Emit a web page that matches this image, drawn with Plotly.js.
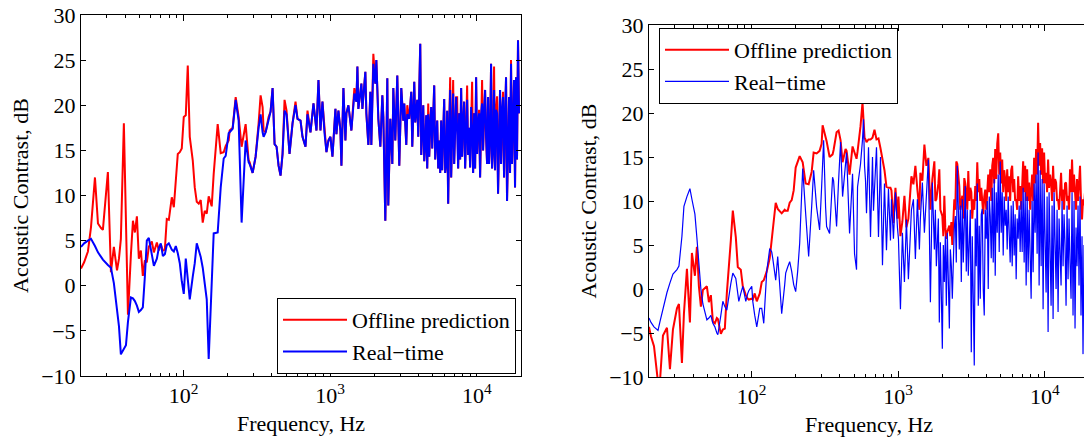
<!DOCTYPE html>
<html>
<head>
<meta charset="utf-8">
<script src="https://cdn.plot.ly/plotly-3.0.1.min.js"></script>
<style>
html,body{margin:0;padding:0;background:#fff;overflow:hidden;}
#chart{width:1090px;height:437px;}
</style>
</head>
<body>
<div id="chart"></div>
<script>
// ---------- Left panel: frequency (Hz) ----------
const freqLeft = [
20.0,21.0,22.3,23.4,24.9,26.1,27.4,28.2,30.5,32.0,
33.5,35.2,36.3,37.4,39.2,40.5,41.8,43.8,45.2,46.6,
48.1,49.6,51.2,52.8,54.5,56.2,58.0,60.8,62.8,65.8,
67.9,70.0,72.3,74.6,76.9,79.4,83.2,85.9,88.6,91.4,
94.3,97.3,100.4,103.6,106.9,110.3,115.6,119.3,123.1,127.0,
131.0,135.2,139.5,144.0,148.5,155.7,160.6,171.0,179.3,187.9,
193.9,203.2,206.4,216.3,226.8,237.6,249.0,265.2,277.9,282.3,
295.9,310.2,325.1,335.4,346.1,351.6,362.8,380.2,392.3,404.8,
417.7,431.0,444.7,458.8,473.4,488.5,504.0,528.3,553.7,580.3,
598.8,627.6,647.6,678.7,700.3,734.0,769.3,806.3,832.0,858.5,
885.8,914.0,943.1,973.1,1004,1036,1086,1103,1138,1174,
1193,1231,1270,1290,1331,1395,1462,1509,1533,1557,
1632,1658,1737,1765,1821,1879,1908,1969,2032,2064,
2130,2198,2268,2304,2376,2452,2490,2570,2652,2694,
2779,2868,2913,2959,3053,3151,3200,3302,3354,3461,
3571,3628,3743,3802,3923,3985,4112,4177,4243,4310,
4378,4447,4517,4588,4661,4734,4809,4885,4962,5040,
5120,5201,5283,5366,5451,5537,5624,5713,5803,5895,
5988,6082,6178,6276,6375,6476,6578,6682,6787,6894,
7003,7114,7226,7340,7456,7574,7693,7815,7938,8063,
8191,8320,8451,8585,8720,8858,8998,9140,9284,9431,
9580,9731,9884,10040,10199,10360,10523,10689,10858,11030,
11204,11381,11560,11743,11928,12117,12308,12502,12700,12900,
13104,13311,13521,13735,13951,14172,14395,14623,14853,15088,
15326,15568,15814,16064,16317,16575,16836,17102,17372,17646,
17925,18208,18495,18787,19084,19385];
const offlineLeft = [
1.9,2.6,3.8,6.5,12.0,6.9,6.4,6.2,12.6,1.5,
4.3,1.7,3.0,5.2,18.0,8.0,-3.2,3.5,7.2,5.9,
7.7,3.0,3.9,1.1,2.8,2.6,4.3,4.9,3.7,4.8,
3.9,4.6,3.9,4.0,7.4,7.3,9.8,8.7,11.7,14.6,
14.8,15.2,18.7,18.9,24.4,16.5,13.9,10.9,9.3,9.1,
9.5,7.0,8.3,8.0,9.9,8.8,12.4,17.9,14.7,14.8,
15.5,16.1,17.2,17.5,20.9,18.7,15.4,17.9,13.9,13.7,
12.5,14.3,18.0,21.1,19.8,17.2,17.0,18.7,19.3,21.9,
15.7,15.4,13.3,12.2,14.6,20.6,19.4,14.6,18.0,20.4,
18.5,18.3,16.5,15.4,19.4,17.0,20.2,17.2,22.8,17.2,
20.4,17.0,14.8,16.1,16.5,14.3,19.6,16.8,19.4,17.2,
13.3,21.9,16.1,19.1,20.0,17.2,21.9,20.4,24.3,19.6,
22.4,19.6,23.7,19.1,15.6,21.5,15.6,25.7,22.4,25.0,
18.5,15.4,21.1,18.7,7.2,23.0,8.9,18.5,13.5,21.9,
16.1,23.3,19.1,13.3,21.9,18.3,20.2,15.6,20.0,18.5,
21.5,15.4,22.6,18.1,20.6,16.5,26.8,14.5,17.2,20.0,
13.8,15.6,18.9,13.0,20.2,14.3,18.0,19.8,15.2,18.5,
22.2,14.0,16.8,18.3,13.0,16.1,12.5,18.3,12.8,17.5,
20.7,12.5,13.5,19.4,9.1,17.5,23.1,12.0,16.1,22.8,
13.5,19.0,20.9,20.9,13.0,19.1,14.0,21.9,14.3,18.0,
20.4,13.0,18.0,22.2,14.5,17.5,13.1,19.8,22.6,12.5,
19.1,13.0,23.1,14.6,18.0,19.5,12.0,19.0,22.8,15.0,
19.5,21.7,16.5,13.5,20.9,13.5,16.1,24.6,13.0,15.0,
24.3,12.8,19.5,21.0,10.2,19.0,21.7,13.5,19.5,21.5,
12.0,19.0,23.1,9.4,18.0,20.9,12.5,25.0,13.5,20.0,
22.8,10.9,23.1,14.0,27.2,19.1];
const realtimeLeft = [
4.3,4.7,5.0,5.2,4.4,3.7,3.2,2.9,2.3,2.0,
0.3,-2.5,-4.5,-7.6,-7.0,-6.6,-4.0,-1.3,-1.4,-1.7,
-2.2,-2.9,-2.7,-2.4,1.0,5.0,5.3,3.5,2.2,3.0,
4.2,4.7,3.3,3.5,4.5,4.7,4.0,3.8,4.4,3.6,
2.5,0.5,-0.9,3.0,1.0,-1.5,1.0,2.5,4.7,4.0,
3.2,2.0,0.4,-1.5,-8.1,1.0,5.8,5.9,10.9,14.1,
14.4,16.9,17.0,17.4,20.6,18.3,7.0,16.1,13.7,13.5,
12.5,14.3,17.5,19.0,17.0,16.5,17.0,18.5,19.3,21.9,
15.7,15.4,13.3,12.2,14.6,19.4,19.0,14.6,18.0,20.0,
18.5,18.3,16.5,15.4,19.0,17.0,20.2,17.2,22.8,17.2,
20.4,17.0,14.8,16.1,16.5,14.3,19.6,16.8,19.4,17.2,
13.3,21.9,16.1,19.1,20.0,17.2,21.3,20.4,24.3,19.6,
22.4,19.6,23.7,19.1,15.6,21.5,15.6,24.6,22.4,25.0,
18.5,15.4,21.1,18.7,7.2,23.0,8.9,18.5,13.5,21.9,
16.1,23.3,19.1,13.3,21.9,18.3,20.2,15.6,19.0,18.5,
21.5,15.4,22.6,18.1,20.6,16.5,26.8,14.5,17.2,20.0,
13.8,15.6,18.9,13.0,19.0,14.3,18.0,19.8,15.2,18.5,
22.2,14.0,16.8,18.3,13.0,16.1,12.5,18.3,12.8,17.5,
20.7,12.5,13.5,19.4,9.1,17.5,21.7,12.0,16.1,21.3,
13.5,19.0,20.9,17.2,13.0,19.1,14.0,21.9,14.3,18.0,
20.4,13.0,18.0,20.6,14.5,17.5,13.1,19.8,17.2,12.5,
19.1,13.0,23.1,14.6,18.0,19.1,12.0,19.0,20.2,15.0,
19.5,21.7,16.5,13.5,20.9,13.5,16.1,24.6,13.0,15.0,
21.7,12.8,19.5,19.1,10.2,19.0,21.7,13.5,19.5,20.9,
12.0,19.0,23.1,9.4,18.0,20.9,12.5,24.6,13.5,20.0,
22.8,10.9,23.1,14.0,27.2,19.1];

// ---------- Right panel: frequency (Hz) ----------
const freqRight = [
20.0,20.64,21.63,22.68,23.04,23.76,24.90,26.52,27.79,29.13,
31.02,32.00,33.54,34.61,36.28,38.02,39.23,41.12,42.43,43.78,
45.17,46.61,49.62,51.20,52.83,54.51,56.24,58.03,58.95,61.78,
63.75,65.78,67.87,72.26,74.56,78.15,80.63,81.91,84.51,87.20,
89.98,91.40,94.31,95.80,100.4,102.0,105.2,108.6,113.8,117.4,
121.2,127.0,133.1,137.4,139.5,146.2,150.9,155.7,160.6,168.4,
171.0,176.5,182.1,187.9,193.9,200.0,206.4,213.0,223.3,233.9,
245.2,257.0,265.2,277.9,291.3,300.6,305.3,310.2,320.0,325.1,
340.7,357.1,362.8,380.2,392.3,404.8,417.7,437.8,444.7,466.1,
488.5,504.0,520.1,528.3,553.7,571.3,580.3,589.5,598.8,608.2,
627.6,647.6,668.2,678.7,689.4,711.4,734.0,757.4,781.5,806.3,
832.0,858.5,885.8,899.8,928.4,958.0,988.4,1004,1036,1069,
1103,1138,1174,1212,1231,1270,1310,1352,1395,1417,
1462,1509,1557,1606,1658,1710,1765,1793,1821,1879,
1908,1939,2000,2032,2064,2096,2130,2163,2233,2268,
2304,2339,2414,2452,2490,2530,2610,2652,2694,2736,
2779,2823,2868,2913,2959,3006,3053,3102,3151,3200,
3251,3302,3354,3407,3461,3516,3571,3628,3685,3743,
3802,3862,3923,3985,4048,4112,4177,4243,4310,4378,
4447,4517,4588,4661,4734,4809,4885,4962,5040,5120,
5201,5283,5366,5451,5537,5624,5713,5803,5895,5988,
6082,6178,6276,6375,6476,6578,6682,6787,6894,7003,
7114,7226,7340,7456,7574,7693,7815,7938,8063,8191,
8320,8451,8585,8720,8858,8998,9140,9284,9431,9580,
9731,9884,10040,10199,10360,10523,10689,10858,11030,11204,
11381,11560,11743,11928,12117,12308,12502,12700,12900,13104,
13311,13521,13735,13951,14172,14395,14623,14853,15088,15326,
15568,15814,16064,16317,16575,16836,17102,17372,17646,17925,
18208,18495,18787];
const offlineRight = [
-4.3,-5.4,-6.5,-10.3,-10.6,-10.5,-5.3,-4.4,-9.1,-4.6,
-2.2,-1.7,-8.4,-2.8,2.3,-3.8,4.1,1.5,4.8,0.3,
-2.0,-0.1,0.3,-1.5,-0.7,-3.7,-3.9,-3.3,-3.4,-5.1,
-4.6,-4.5,-0.5,5.5,8.9,5.9,2.5,2.4,2.2,0.3,
-0.5,-0.7,-1.1,-1.2,-1.1,-1.2,-0.5,-1.4,-0.5,0.8,
1.0,2.0,3.5,5.5,6.3,9.8,9.1,8.8,8.6,9.0,
8.9,8.9,9.8,10.1,11.2,13.8,14.5,15.1,14.4,12.0,
11.9,13.3,15.5,15.4,15.7,16.5,18.6,18.2,17.2,16.8,
15.0,15.3,15.8,17.8,18.0,16.9,14.4,15.9,15.7,13.0,
16.2,15.5,14.8,15.6,18.5,21.2,19.5,17.2,17.0,16.7,
17.0,17.0,17.2,17.8,18.1,17.0,17.1,16.0,14.7,13.5,
11.6,11.5,11.5,11.2,7.5,11.5,8.0,10.5,6.0,7.7,
10.6,7.0,8.0,12.0,12.8,11.9,14.0,11.3,9.0,13.2,
12.3,16.4,14.0,14.9,9.0,12.5,14.5,10.0,10.2,12.0,
13.6,9.0,8.3,6.0,10.6,7.0,5.7,6.5,7.2,6.0,
7.6,5.0,10.2,9.0,14.5,14.2,11.7,9.0,10.0,10.6,
8.0,12.6,12.0,11.0,9.0,13.4,10.0,11.5,11.0,8.0,
10.2,9.0,11.7,10.0,14.4,11.0,12.5,10.0,11.5,10.2,
8.5,10.5,11.3,9.0,12.0,13.0,11.0,13.6,10.0,14.0,
14.9,12.0,15.9,12.5,16.5,17.7,13.0,15.5,12.0,14.7,
11.0,13.5,12.5,10.0,13.6,11.0,12.8,10.0,13.5,14.0,
11.0,12.5,10.0,10.2,9.0,12.8,10.0,11.7,9.0,12.0,
14.5,11.0,14.0,10.0,13.6,10.0,12.1,9.0,11.0,13.0,
10.0,14.9,12.0,15.9,13.0,18.9,14.0,16.6,13.0,16.0,
12.0,15.5,12.0,13.2,11.0,14.7,11.5,13.0,12.1,10.0,
14.0,11.0,12.5,12.1,10.0,10.2,9.0,12.0,13.2,10.0,
11.3,9.0,12.0,12.1,10.0,10.6,9.0,13.6,11.0,14.7,
11.0,13.0,10.2,9.0,12.5,10.0,12.0,14.0,10.0,7.9,
10.2,9.5,11.0];
const realtimeRight = [
-3.3,-3.8,-4.3,-4.6,-4.7,-3.7,-2.2,-0.4,0.7,1.7,
2.2,2.6,6.0,9.4,10.5,11.4,10.2,8.5,5.8,3.0,
0.0,-1.7,-3.5,-3.3,-3.0,-3.9,-4.3,-5.0,-5.2,-3.0,
-1.4,-2.0,-2.4,0.6,1.8,1.2,-0.6,-1.4,-0.5,0.3,
-0.8,-1.4,-0.5,-0.2,0.3,-1.4,-3.0,-4.3,-2.2,-2.2,
-3.9,2.0,4.6,4.2,3.5,1.0,3.7,0.5,-2.8,0.5,
1.8,2.5,3.1,2.0,0.5,-0.3,2.0,5.2,13.7,8.6,
3.7,9.3,13.5,9.3,6.7,11.6,14.5,16.9,9.3,7.1,
6.3,12.7,12.3,7.1,12.3,16.7,10.5,13.8,15.5,6.3,
13.1,4.0,2.2,11.6,14.2,17.0,19.3,14.0,12.3,8.6,
16.1,5.9,15.0,8.9,12.0,16.1,5.9,15.0,2.7,12.0,
4.4,11.4,5.5,10.2,5.7,11.0,7.0,5.7,-2.3,6.4,
0.8,7.9,1.1,6.4,9.0,10.2,3.4,10.2,4.5,8.0,
12.1,6.4,10.2,14.7,-1.5,12.1,4.5,9.0,2.6,8.0,
-3.8,5.3,-6.8,5.0,0.8,6.0,-1.9,6.4,-4.5,4.5,
2.6,-1.1,7.0,8.3,3.0,14.0,4.5,9.5,0.8,10.2,
3.0,6.4,11.7,2.0,9.0,1.5,5.3,9.0,-7.2,6.0,
-1.1,-8.7,8.0,2.6,12.0,-1.9,7.2,-1.1,8.5,9.1,
0.0,-3.0,9.0,5.7,10.0,0.0,10.5,8.3,3.5,11.5,
3.0,12.5,1.5,11.0,6.4,13.0,4.2,14.5,6.4,11.0,
3.8,10.5,7.2,9.0,4.5,10.5,6.4,3.0,9.5,2.6,
10.0,3.8,8.5,1.1,8.0,5.7,9.5,4.2,10.0,4.2,
11.5,3.0,11.0,0.4,10.5,1.9,9.0,4.0,-1.1,10.0,
1.9,12.0,6.4,13.0,4.0,15.5,0.4,13.5,2.6,12.5,
-2.3,12.0,3.0,-0.4,10.5,-4.9,11.0,2.0,-1.9,9.5,
-3.4,11.0,3.0,0.0,9.0,-2.6,8.0,3.0,0.4,10.0,
2.6,8.5,5.0,-1.9,9.5,1.1,8.0,3.0,-1.1,11.0,
-3.0,10.0,-4.5,7.0,2.6,9.5,0.4,10.5,-3.0,6.0,
-7.4,5.0,3.0];

// ---------- Axis ticks ----------
const majorTickVals = [100, 1000, 10000];
const majorTickText = ['10<sup>2</sup>', '10<sup>3</sup>', '10<sup>4</sup>'];
const minorTickVals = [20,30,40,50,60,70,80,90,200,300,400,500,600,700,800,900,
  2000,3000,4000,5000,6000,7000,8000,9000,20000];
const yTickVals = [-10,-5,0,5,10,15,20,25,30];
const seriesNames = ['Offline prediction', 'Real\u2212time'];

const W = 1090, H = 437;
const FONT = 'Liberation Serif, Times New Roman, serif';
const FS = 22;

function xAxis(dom, anchor) {
  return {
    domain: dom, anchor: anchor, type: 'log',
    range: [Math.log10(20), Math.log10(20000)],
    tickmode: 'array', tickvals: majorTickVals, ticktext: majorTickText,
    ticks: 'inside', ticklen: 6, tickwidth: 1, tickcolor: '#000',
    minor: {tickmode: 'array', tickvals: minorTickVals, ticks: 'inside', ticklen: 3, tickwidth: 1, tickcolor: '#000'},
    showline: true, linecolor: '#000', linewidth: 1, mirror: 'ticks',
    showgrid: false, zeroline: false,
    tickfont: {family: FONT, size: FS, color: '#000'},
    title: {text: 'Frequency, Hz', font: {family: FONT, size: FS, color: '#000'}, standoff: 8},
    automargin: false
  };
}
function yAxis(dom, anchor) {
  return {
    domain: dom, anchor: anchor,
    range: [-10, 30],
    tickmode: 'array', tickvals: yTickVals,
    ticks: 'inside', ticklen: 5, tickwidth: 1, tickcolor: '#000',
    showline: true, linecolor: '#000', linewidth: 1, mirror: 'ticks',
    showgrid: false, zeroline: false,
    tickfont: {family: FONT, size: FS, color: '#000'},
    title: {text: 'Acoustic Contrast, dB', font: {family: FONT, size: FS, color: '#000'}, standoff: 6},
    automargin: false
  };
}

const traces = [
  {x: freqLeft, y: offlineLeft, name: seriesNames[0], type: 'scatter', mode: 'lines',
   line: {color: '#ff0000', width: 2}, xaxis: 'x', yaxis: 'y', legend: 'legend'},
  {x: freqLeft, y: realtimeLeft, name: seriesNames[1], type: 'scatter', mode: 'lines',
   line: {color: '#0000ff', width: 2}, xaxis: 'x', yaxis: 'y', legend: 'legend'},
  {x: freqRight, y: offlineRight, name: seriesNames[0], type: 'scatter', mode: 'lines',
   line: {color: '#ff0000', width: 2}, xaxis: 'x2', yaxis: 'y2', legend: 'legend2'},
  {x: freqRight, y: realtimeRight, name: seriesNames[1], type: 'scatter', mode: 'lines',
   line: {color: '#0000ff', width: 1.2}, xaxis: 'x2', yaxis: 'y2', legend: 'legend2'}
];

const legendStyle = {
  font: {family: FONT, size: FS, color: '#000'},
  bgcolor: '#fff', bordercolor: '#000', borderwidth: 1,
  tracegroupgap: 0, itemwidth: 64
};

const layout = {
  width: W, height: H,
  margin: {l: 0, r: 0, t: 0, b: 0},
  paper_bgcolor: '#fff', plot_bgcolor: '#fff',
  font: {family: FONT, size: FS, color: '#000'},
  showlegend: true,
  xaxis: xAxis([81 / W, 521 / W], 'y'),
  yaxis: yAxis([61 / H, 422 / H], 'x'),
  xaxis2: xAxis([649 / W, 1089 / W], 'y2'),
  yaxis2: yAxis([60 / H, 412 / H], 'x2'),
  legend: Object.assign({x: 516 / W, xanchor: 'right', y: 1 - 298 / H, yanchor: 'top'}, legendStyle),
  legend2: Object.assign({x: 659 / W, xanchor: 'left', y: 1 - 28 / H, yanchor: 'top'}, legendStyle)
};

Plotly.newPlot('chart', traces, layout, {staticPlot: true, displayModeBar: false});
</script>
</body>
</html>
